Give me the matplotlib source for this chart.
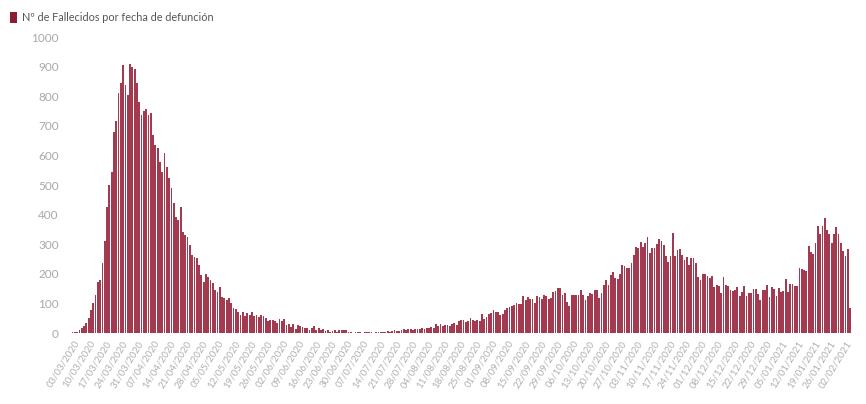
import matplotlib
matplotlib.use("Agg")
import matplotlib.pyplot as plt
import numpy as np

plt.rcParams['font.family'] = ['Lato', 'DejaVu Sans']

# Daily deaths, 01/03/2020 .. 02/02/2021
wave1 = [3, 4, 5, 10, 17, 22, 33, 50, 78, 101, 128, 173, 180, 238, 312, 427, 500, 545, 680, 716,
         810, 843, 905, 838, 804, 908, 900, 893, 843, 781, 736, 750, 757, 736, 742, 669, 635, 624,
         579, 545, 607, 562, 522, 489, 438, 393, 382, 427, 342, 331, 326, 297, 263, 257, 252, 230,
         196, 173, 198, 190, 180, 169, 145, 140, 157, 123, 117, 112, 117, 101, 83, 81, 72, 61, 72,
         58, 68, 61, 72, 57, 61, 55, 61, 57]
summer = [50, 42, 43, 43, 41, 33, 48, 41, 46, 27, 29, 19, 30, 13, 27, 22, 19, 17, 17, 10, 17, 22,
          10, 17, 10, 12, 8, 10, 5, 8, 10, 3, 10, 10, 10, 10, 2,
          3, 0, 4, 4, 3, 0, 3, 3, 4, 2, 0, 2, 3, 4, 2, 5, 6, 4, 6, 9, 8, 7, 10, 12, 9, 12, 14, 11,
          13, 15, 13, 16, 14, 18, 17, 20, 16, 30, 22, 31, 24, 28, 27, 25, 30, 35, 27, 40, 43, 44]
autumn = [38, 40, 50, 45, 40, 45, 42, 64, 47, 55, 64, 69, 78, 72, 72, 62, 65, 78, 83, 89, 90, 94,
          100, 98, 97, 125, 111, 120, 115, 115, 100, 125, 123, 114, 128, 125, 114, 118, 140, 142, 151,
          151, 128, 135, 106, 90, 128, 128, 128, 128, 146, 130, 112, 125, 135, 133, 145, 145, 118, 135,
          163, 180, 163, 196, 207, 185, 183, 200, 230, 225, 219, 219, 236, 264, 292, 288, 309,
          292, 305, 323, 270, 287, 287, 300, 316, 312, 297, 260, 241, 260, 339, 260, 280, 283, 264,
          247, 256, 230, 252, 252, 238]
winter = [188, 180, 200, 198, 191, 185, 194, 154, 163, 160, 136, 189, 163, 158, 145, 142, 145, 154,
          124, 140, 158, 126, 135, 135, 149, 149, 131, 112, 145, 145, 161, 122, 157, 149, 126, 152,
          138, 142, 182, 140, 167, 167, 160, 158, 218, 215, 212, 210, 294, 272, 268, 303, 361, 336,
          361, 387, 347, 334, 304, 336, 358, 333, 304, 276, 259, 284, 83]
deaths = wave1 + summer + autumn + winter

tick_labels = ["03/03/2020", "10/03/2020", "17/03/2020", "24/03/2020", "31/03/2020", "07/04/2020",
               "14/04/2020", "21/04/2020", "28/04/2020", "05/05/2020", "12/05/2020", "19/05/2020",
               "26/05/2020", "02/06/2020", "09/06/2020", "16/06/2020", "23/06/2020", "30/06/2020",
               "07/07/2020", "14/07/2020", "21/07/2020", "28/07/2020", "04/08/2020", "11/08/2020",
               "18/08/2020", "25/08/2020", "01/09/2020", "08/09/2020", "15/09/2020", "22/09/2020",
               "29/09/2020", "06/10/2020", "13/10/2020", "20/10/2020", "27/10/2020", "03/11/2020",
               "10/11/2020", "17/11/2020", "24/11/2020", "01/12/2020", "08/12/2020", "15/12/2020",
               "22/12/2020", "29/12/2020", "05/01/2021", "12/01/2021", "19/01/2021", "26/01/2021",
               "02/02/2021"]
first_tick_day = 2
yticks = [0, 100, 200, 300, 400, 500, 600, 700, 800, 900, 1000]
legend_label = "Nº de Fallecidos por fecha de defunción"

fig = plt.figure(figsize=(8.66, 4.04), dpi=100)
ax = fig.add_axes([70/866, 1 - 333/404, 786/866, 296/404])

x = np.arange(len(deaths))
bars = ax.bar(x, deaths, width=0.78, color='#a33a4f', linewidth=0)

ax.set_xlim(-1.1, 340.6)
ax.set_ylim(0, 1000)
ax.set_yticks(yticks)
ax.set_yticklabels([str(v) for v in yticks], fontsize=8.5, color='#a8a8a8')
tick_pos = [first_tick_day + 7 * k for k in range(len(tick_labels))]
ax.set_xticks(tick_pos)
ax.set_xticklabels(tick_labels, rotation=58, ha='right', va='center',
                   rotation_mode='anchor', fontsize=7, color='#b0b0b0')
ax.tick_params(axis='both', length=0)
ax.tick_params(axis='x', pad=6)
ax.tick_params(axis='y', pad=8)
for s in ax.spines.values():
    s.set_visible(False)

leg = fig.legend([bars], [legend_label], loc='upper left', bbox_to_anchor=(0.0, 0.995),
                 frameon=False, fontsize=7.8, handlelength=0.7, handleheight=1.2,
                 handletextpad=0.4, labelcolor='#555555')
for h in leg.legend_handles:
    h.set_color('#8a1f33')

fig.savefig('out.png', dpi=100)
